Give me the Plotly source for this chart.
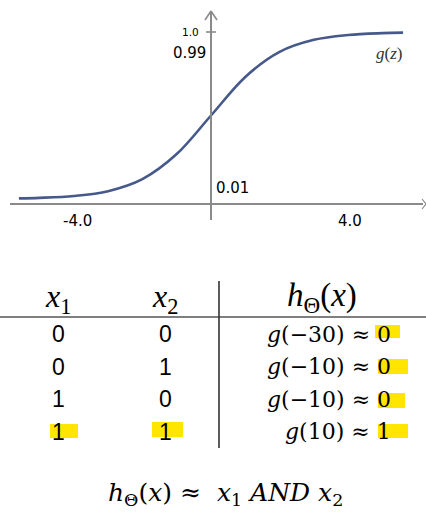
import plotly.graph_objects as go

# ---- data ----
z_vals = [-5.6, -5, -4, -3, -2, -1, 0, 1, 2, 3, 4, 5, 5.6]
g_vals = [0.004, 0.007, 0.018, 0.047, 0.119, 0.269, 0.5, 0.731, 0.881, 0.953, 0.982, 0.993, 0.996]
x_tick_labels = ["-4.0", "4.0"]
y_labels = ["1.0", "0.99", "0.01"]

x1_col = [0, 0, 1, 1]
x2_col = [0, 1, 0, 1]
g_args = ["−30", "−10", "−10", "10"]
h_out = [0, 0, 0, 1]

W, H = 426, 517
TOP_H = 230  # pixel height of the sigmoid panel

fig = go.Figure()

# sigmoid curve on the data axes
fig.add_trace(go.Scatter(
    x=z_vals, y=g_vals, mode="lines", line=dict(color="#46598a", width=2.6, shape="spline"),
    hoverinfo="skip", showlegend=False, xaxis="x", yaxis="y"))
# dummy trace for overlay pixel axes
fig.add_trace(go.Scatter(x=[None], y=[None], xaxis="x2", yaxis="y2", showlegend=False,
                         hoverinfo="skip"))

px_per_unit_x = 34.3
z0_px = 211
y0_px, y1_px = 199, 32
px_per_unit_y = y0_px - y1_px

fig.update_layout(
    width=W, height=H, margin=dict(l=0, r=0, t=0, b=0),
    paper_bgcolor="white", plot_bgcolor="rgba(0,0,0,0)",
    xaxis=dict(domain=[0, 1], range=[-z0_px / px_per_unit_x, (W - z0_px) / px_per_unit_x],
               visible=False, fixedrange=True),
    yaxis=dict(domain=[1 - TOP_H / H, 1],
               range=[(y0_px - TOP_H) / px_per_unit_y, y0_px / px_per_unit_y],
               visible=False, fixedrange=True),
    xaxis2=dict(domain=[0, 1], range=[0, W], visible=False, anchor="y2", fixedrange=True),
    yaxis2=dict(domain=[0, 1], range=[H, 0], visible=False, anchor="x2", fixedrange=True),
)

axis_col = "#8a8a8a"
shapes = []
def pline(xa, ya, xb, yb, color, width):
    shapes.append(dict(type="line", xref="x2", yref="y2", x0=xa, y0=ya, x1=xb, y1=yb,
                       line=dict(color=color, width=width), layer="below"))

# sigmoid axes
pline(10, 204, 423, 204, axis_col, 2)
pline(211, 11, 211, 220, axis_col, 2)
pline(205, 20, 211, 11, axis_col, 1.6)
pline(217, 20, 211, 11, axis_col, 1.6)
pline(206, 32, 216, 32, axis_col, 1.6)
pline(422, 199, 426, 204, axis_col, 1.2)
pline(422, 209, 426, 204, axis_col, 1.2)

# table lines
pline(0, 317, 426, 317, "#555555", 1.6)
pline(219, 281, 219, 448, "#333333", 1.6)

# highlights
yellow = "#ffe600"
def hl(xa, ya, xb, yb):
    shapes.append(dict(type="rect", xref="x2", yref="y2", x0=xa, y0=ya, x1=xb, y1=yb,
                       fillcolor=yellow, line=dict(width=0), layer="below"))
hl_rows = [(375, 325, 400, 338), (378, 359, 408, 374), (378, 393, 405, 408), (378, 424, 408, 438)]
for r in hl_rows:
    hl(*r)
hl(50, 424, 78, 438)
hl(152, 422, 183, 437)

fig.update_layout(shapes=shapes)

ann = []
def text(x, y, s, size, family="Liberation Sans", color="black", xanchor="center", yanchor="middle"):
    ann.append(dict(x=x, y=y, xref="x2", yref="y2", text=s, showarrow=False,
                    font=dict(size=size, family=family, color=color),
                    xanchor=xanchor, yanchor=yanchor))

# sigmoid labels
sans = "DejaVu Sans"
text(77, 221, x_tick_labels[0], 15, family=sans)
text(350, 221, x_tick_labels[1], 15, family=sans)
text(201, 32, y_labels[0], 10.5, family=sans, xanchor="right")
text(208, 53, y_labels[1], 15, family=sans, xanchor="right")
text(214, 188, y_labels[2], 15, family=sans, xanchor="left")
text(404, 53, "<i>g</i>(<i>z</i>)", 17, family="Liberation Serif", color="#333333", xanchor="right")

# table header
serif = "Liberation Serif"
text(58, 298, "<i>x</i><sub>1</sub>", 32, family=serif)
text(165, 298, "<i>x</i><sub>2</sub>", 32, family=serif)
text(322, 297, "<i>h</i><sub>Θ</sub>(<i>x</i>)", 33, family=serif)

row_y = [334, 366.5, 399, 431.5]
for i in range(4):
    text(58, row_y[i], str(x1_col[i]), 23)
    text(165, row_y[i], str(x2_col[i]), 23)
    text(393, row_y[i], f"<i>g</i>({g_args[i]}) ≈ {h_out[i]}", 22, family="DejaVu Serif",
         xanchor="right")

# formula
text(225, 494,
     "<i>h</i><sub>Θ</sub>(<i>x</i>) ≈ &nbsp;<i>x</i><sub>1</sub> <i>AND x</i><sub>2</sub>",
     25, family="DejaVu Serif")

fig.update_layout(annotations=ann)

fig.write_html("out.html", config={"displayModeBar": False},
               post_script="document.body.style.margin='0';document.body.style.overflow='hidden';")
